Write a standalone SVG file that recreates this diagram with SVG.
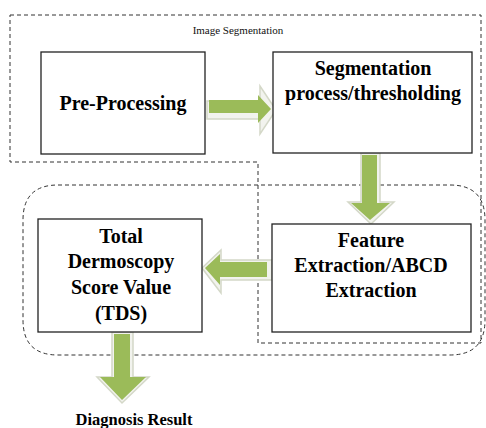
<svg xmlns="http://www.w3.org/2000/svg" width="486" height="428" viewBox="0 0 486 428">
<defs>
<style>
.box{fill:#fff;stroke:#222;stroke-width:1.3}
.dash{fill:none;stroke:#333;stroke-width:1;stroke-dasharray:4,3}
.t{font-family:'Liberation Serif','Times New Roman','DejaVu Serif',serif;font-weight:bold;font-size:20px;fill:#000;text-anchor:middle}
.s{font-family:'Liberation Serif','Times New Roman','DejaVu Serif',serif;font-size:11px;fill:#111;text-anchor:middle}
.sh{fill:#f2f3ee;stroke:#d4d8c8;stroke-width:1.5}
.ar{fill:#9bbb59}
</style>
</defs>
<rect width="486" height="428" fill="#fff"/>
<g id="groups">
<path class="dash" d="M10,15 H481 V343 H258 V162 H10 Z"/>
<path class="dash" d="M58,185 H450 Q485,185 485,220 V320 Q485,355 450,355 H58 Q23,355 23,320 V220 Q23,185 58,185 Z"/>
<text class="s" x="238" y="34">Image Segmentation</text>
</g>
<g id="connectors">
<g id="a1">
<polygon class="sh" points="207,101 260,101 260,86 276,110 260,134 260,119 207,119"/>
<polygon class="ar" points="209,100 258,100 258,95 271,109 258,123 258,113 209,113"/>
</g>
<g id="a2">
<polygon class="sh" points="361,153 380,153 380,202 394,202 371,224 348,202 361,202"/>
<polygon class="ar" points="362,155 377,155 377,203 390,203 370,220 351,203 362,203"/>
</g>
<g id="a3">
<polygon class="sh" points="272,260 272,280 221,280 221,293 202,268 221,250 221,260"/>
<polygon class="ar" points="267,262 267,277 220,277 220,285 205,268 220,254 220,262"/>
</g>
<g id="a4">
<polygon class="sh" points="112,332 133,332 133,377 149,377 122,403 97,377 112,377"/>
<polygon class="ar" points="114,334 130,334 130,377 146,377 122,400 100,377 114,377"/>
</g>
</g>
<g id="pre">
<rect class="box" x="41" y="52" width="164" height="102"/>
<text class="t" x="123" y="110">Pre-Processing</text>
</g>
<g id="seg">
<rect class="box" x="273" y="52" width="199" height="101"/>
<text class="t" x="373" y="75">Segmentation</text>
<text class="t" x="373" y="100">process/thresholding</text>
</g>
<g id="feat">
<rect class="box" x="272" y="224" width="199" height="108"/>
<text class="t" x="371" y="247">Feature</text>
<text class="t" x="371" y="272">Extraction/ABCD</text>
<text class="t" x="371" y="297">Extraction</text>
</g>
<g id="tds">
<rect class="box" x="38" y="219" width="164" height="113"/>
<text class="t" x="121" y="243">Total</text>
<text class="t" x="121" y="268">Dermoscopy</text>
<text class="t" x="121" y="294">Score Value</text>
<text class="t" x="121" y="320">(TDS)</text>
</g>
<g id="diag">
<text class="t" x="134" y="425" style="font-size:16.5px">Diagnosis Result</text>
</g>
</svg>
